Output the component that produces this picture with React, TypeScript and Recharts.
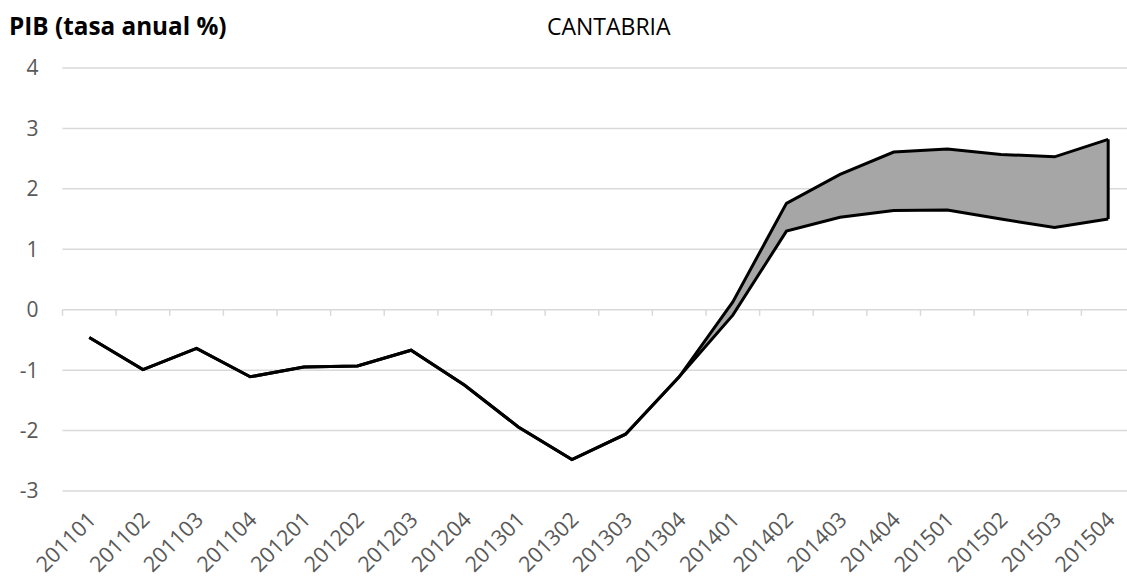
import React from 'react';
import {
  ComposedChart, Line, Area, XAxis, YAxis, CartesianGrid, ReferenceLine,
} from 'recharts';

const categories = [
  '201101', '201102', '201103', '201104', '201201', '201202', '201203', '201204',
  '201301', '201302', '201303', '201304', '201401', '201402', '201403', '201404',
  '201501', '201502', '201503', '201504',
];
const upperValues = [
  -0.46, -0.99, -0.64, -1.11, -0.95, -0.93, -0.67, -1.25,
  -1.94, -2.48, -2.06, -1.11, 0.13, 1.76, 2.24, 2.61,
  2.66, 2.57, 2.53, 2.82,
];
const lowerValues = [
  -0.46, -0.99, -0.64, -1.11, -0.95, -0.93, -0.67, -1.25,
  -1.94, -2.48, -2.06, -1.11, -0.09, 1.30, 1.53, 1.64,
  1.65, 1.50, 1.36, 1.50,
];
const yTicks = [-3, -2, -1, 0, 1, 2, 3, 4];

const FONT = '"Open Sans", Lato, sans-serif';

const data = categories.map((c, i) => ({
  idx: i,
  cat: c,
  upper: upperValues[i],
  lower: lowerValues[i],
  band: [lowerValues[i], upperValues[i]],
}));
const xTicks = categories.map((_, i) => i);
const boundaries = categories.map((_, i) => i - 0.5).concat([categories.length - 0.5]);
const last = categories.length - 1;

const XTick = (props: any) => {
  const { x, y, payload } = props;
  return (
    <g transform={`translate(${x + 2},${y + 24})`}>
      <text
        transform="rotate(-45)"
        textAnchor="end"
        dominantBaseline="central"
        fill="#595959"
        fontSize={21.5}
        fontFamily={FONT}
      >
        {categories[payload.value]}
      </text>
    </g>
  );
};

export default function App() {
  return (
    <div style={{ position: 'fixed', left: 0, top: 0, width: 1127, height: 580, overflow: 'hidden', background: '#fff' }}>
      <div style={{ position: 'absolute', left: 9, top: 10, fontFamily: FONT, fontWeight: 700, fontSize: 24.3, color: '#000', lineHeight: '32px', whiteSpace: 'nowrap' }}>
        PIB (tasa anual %)
      </div>
      <div style={{ position: 'absolute', left: 547, top: 10, fontFamily: FONT, fontSize: 23, color: '#000', lineHeight: '32px', whiteSpace: 'nowrap' }}>
        CANTABRIA
      </div>
      <div style={{ position: 'absolute', left: 0, top: 0 }}>
        <ComposedChart
          width={1135}
          height={580}
          data={data}
          margin={{ top: 68, right: 0, bottom: 0, left: 0 }}
        >
          <CartesianGrid vertical={false} stroke="#d9d9d9" strokeWidth={1.5} />
          <XAxis
            dataKey="idx"
            type="number"
            domain={[-0.5, categories.length - 0.5]}
            ticks={xTicks}
            interval={0}
            height={89}
            axisLine={false}
            tickLine={false}
            tickSize={0}
            tickMargin={0}
            tick={<XTick />}
          />
          <YAxis
            domain={[-3, 4]}
            ticks={yTicks}
            width={62.5}
            axisLine={false}
            tickLine={false}
            tickSize={0}
            tickMargin={24}
            tick={{ fill: '#595959', fontSize: 21, fontFamily: FONT }}
          />
          {boundaries.map((b) => (
            <ReferenceLine
              key={`t${b}`}
              segment={[{ x: b, y: 0 }, { x: b, y: -0.1 }]}
              stroke="#d9d9d9"
              strokeWidth={1.5}
              ifOverflow="visible"
            />
          ))}
          <Area
            dataKey="band"
            type="linear"
            fill="#a6a6a6"
            fillOpacity={1}
            stroke="none"
            isAnimationActive={false}
          />
          <Line dataKey="lower" type="linear" stroke="#000" strokeWidth={3} dot={false} isAnimationActive={false} />
          <Line dataKey="upper" type="linear" stroke="#000" strokeWidth={3} dot={false} isAnimationActive={false} />
          <ReferenceLine
            segment={[{ x: last, y: lowerValues[last] }, { x: last, y: upperValues[last] }]}
            stroke="#000"
            strokeWidth={3}
            ifOverflow="visible"
          />
        </ComposedChart>
      </div>
    </div>
  );
}
